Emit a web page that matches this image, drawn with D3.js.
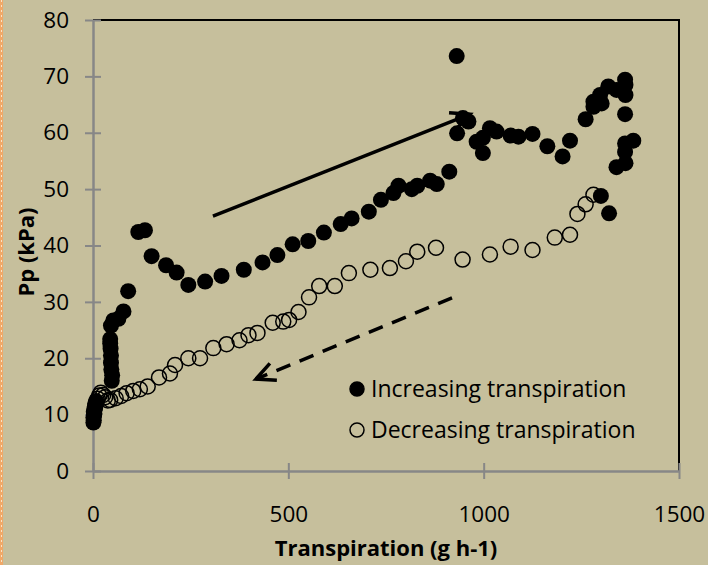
<!DOCTYPE html>
<html>
<head>
<meta charset="utf-8">
<script src="https://cdn.jsdelivr.net/npm/d3@7"></script>
<style>
  body { margin: 0; background: #c6bf9c; }
  svg { display: block; }
  text { font-family: "Open Sans", sans-serif; fill: #000; }
</style>
</head>
<body>
<script>
const width = 708;
const height = 565;

// increasing transpiration (g h-1, kPa)
const incX = [1, 2, 1, 3, 2, 4, 5, 6, 8,
  48, 49, 47, 46, 46, 45, 44, 44, 46, 52, 65, 78, 90, 116, 133, 150, 187, 214, 244, 287, 329,
  386, 434, 472, 511, 551, 591, 634, 662, 706, 737, 769, 782, 816, 830, 863, 880, 912, 931,
  932, 947, 961, 982, 998, 998, 1016, 1033, 1069, 1089, 1125, 1163, 1202, 1221, 1261, 1281,
  1281, 1298, 1302, 1319, 1340, 1362, 1363, 1363, 1362, 1383, 1362, 1362, 1363, 1340, 1300, 1321];
const incY = [8.6, 9.0, 9.5, 10.0, 10.5, 11.0, 11.5, 12.0, 12.4,
  16.0, 17.0, 18.0, 19.2, 20.5, 21.7, 22.6, 23.4, 25.8, 26.7, 27.0, 28.3, 31.9, 42.4, 42.7, 38.1, 36.5, 35.2, 33.0, 33.6, 34.6,
  35.7, 37.0, 38.3, 40.2, 40.8, 42.3, 43.8, 44.8, 46.0, 48.1, 49.3, 50.6, 50.0, 50.6, 51.5, 50.9, 53.1, 73.6,
  59.9, 62.6, 62.0, 58.4, 59.1, 56.4, 60.8, 60.2, 59.5, 59.3, 59.8, 57.6, 55.8, 58.6, 62.4, 65.5,
  64.6, 66.7, 65.2, 68.2, 67.6, 69.4, 68.5, 66.7, 63.3, 58.6, 58.1, 56.6, 54.6, 53.9, 48.8, 45.7];

// decreasing transpiration
const decX = [3, 5, 8, 12, 16, 20, 26, 31, 38, 44, 58, 72, 86, 103, 120, 140, 169, 197, 210, 244,
  274, 308, 342, 375, 398, 421, 460, 487, 502, 526, 553, 579, 619, 655, 710, 760, 801, 830, 878,
  946, 1016, 1069, 1125, 1182, 1221, 1240, 1261, 1281];
const decY = [10.2, 11.2, 12.0, 12.8, 13.4, 13.9, 13.5, 13.1, 12.5, 12.6, 12.9, 13.3, 13.8, 14.2, 14.5, 15.0, 16.6, 17.3, 18.8, 20.0,
  20.0, 21.8, 22.5, 23.2, 24.1, 24.5, 26.3, 26.5, 26.8, 28.2, 30.8, 32.8, 32.8, 35.1, 35.7, 36.0, 37.2, 38.9, 39.6,
  37.5, 38.4, 39.8, 39.2, 41.4, 41.9, 45.6, 47.3, 49.0];

const xTicks = [0, 500, 1000, 1500];
const yTicks = [0, 10, 20, 30, 40, 50, 60, 70, 80];
const legendLabels = ['Increasing transpiration', 'Decreasing transpiration'];

// annotation arrows [x1, y1, x2, y2] in data units
const upArrow = [307, 45.2, 965, 63.3];
const downArrow = [919, 30.7, 417, 16.3];

const svg = d3.select('body').append('svg').attr('width', width).attr('height', height);

svg.append('rect').attr('width', width).attr('height', height).attr('fill', '#c6bf9c');
// dotted orange edge on the left
svg.append('rect').attr('x', 0).attr('y', 0).attr('width', 3).attr('height', height).attr('fill', '#f0a868');
svg.append('line').attr('x1', 1.5).attr('x2', 1.5).attr('y1', 0).attr('y2', height)
  .attr('stroke', '#f6e3c8').attr('stroke-width', 1).attr('stroke-dasharray', '2,3');

const x = d3.scaleLinear().domain([0, 1500]).range([93, 679]);
const y = d3.scaleLinear().domain([0, 80]).range([471, 20]);

const g = svg.append('g');

// frame top and right
g.append('path')
  .attr('d', `M${x(0)},${y(80)}H${x(1500)}V${y(0)}`)
  .attr('fill', 'none').attr('stroke', '#000').attr('stroke-width', 2);

const xAxis = g.append('g').attr('transform', `translate(0,${y(0)})`)
  .call(d3.axisBottom(x).tickValues(xTicks).tickFormat(d3.format('d'))
    .tickSizeInner(8).tickSizeOuter(0).tickPadding(27));
const yAxis = g.append('g').attr('transform', `translate(${x(0)},0)`)
  .call(d3.axisLeft(y).tickValues(yTicks).tickFormat(d3.format('d'))
    .tickSizeInner(8).tickSizeOuter(0).tickPadding(16));

[xAxis, yAxis].forEach(a => {
  a.select('.domain').attr('stroke', '#878787').attr('stroke-width', 2.5);
  a.selectAll('.tick line').attr('stroke', '#878787').attr('stroke-width', 2);
  a.selectAll('.tick text').style('font-size', '22.5px').style('font-family', '"Open Sans", sans-serif').attr('fill', '#000');
});
xAxis.selectAll('.tick line').attr('y1', -8);
yAxis.selectAll('.tick line').attr('x1', 8);

// points
g.selectAll('.dec').data(decX).enter().append('circle')
  .attr('class', 'dec')
  .attr('cx', (d) => x(d)).attr('cy', (d, i) => y(decY[i]))
  .attr('r', 7.5).attr('fill', 'none').attr('stroke', '#000').attr('stroke-width', 1.5);

g.selectAll('.inc').data(incX).enter().append('circle')
  .attr('class', 'inc')
  .attr('cx', (d) => x(d)).attr('cy', (d, i) => y(incY[i]))
  .attr('r', 8).attr('fill', '#000');

// arrows, drawn over the points
function arrow(a, dash) {
  const x1 = x(a[0]), y1 = y(a[1]), x2 = x(a[2]), y2 = y(a[3]);
  const line = g.append('line')
    .attr('x1', x1).attr('y1', y1).attr('x2', x2).attr('y2', y2)
    .attr('stroke', '#000').attr('stroke-width', 3.5);
  if (dash) line.attr('stroke-dasharray', dash);
  const ang = Math.atan2(y2 - y1, x2 - x1);
  const len = 21, spread = 0.45;
  const p1 = [x2 - len * Math.cos(ang - spread), y2 - len * Math.sin(ang - spread)];
  const p2 = [x2 - len * Math.cos(ang + spread), y2 - len * Math.sin(ang + spread)];
  g.append('path')
    .attr('d', `M${p1[0]},${p1[1]}L${x2},${y2}L${p2[0]},${p2[1]}`)
    .attr('fill', 'none').attr('stroke', '#000').attr('stroke-width', 3.5)
    .attr('stroke-linejoin', 'miter');
}
arrow(upArrow, null);
arrow(downArrow, '15,10');

// legend
const legend = svg.append('g').attr('transform', 'translate(357,389)');
legendLabels.forEach((lab, i) => {
  const row = legend.append('g').attr('transform', `translate(0,${i * 41})`);
  row.append('circle').attr('r', 7)
    .attr('fill', i === 0 ? '#000' : 'none').attr('stroke', '#000').attr('stroke-width', 1.5);
  row.append('text').attr('x', 14).attr('y', 8).style('font-size', '23px').text(lab);
});

// axis titles
svg.append('text')
  .attr('x', 386).attr('y', 556)
  .attr('text-anchor', 'middle').style('font-size', '22px').style('font-weight', 'bold')
  .text('Transpiration (g h-1)');
svg.append('text')
  .attr('transform', 'translate(34,252) rotate(-90)')
  .attr('text-anchor', 'middle').style('font-size', '22px').style('font-weight', 'bold')
  .text('Pp (kPa)');
</script>
</body>
</html>
